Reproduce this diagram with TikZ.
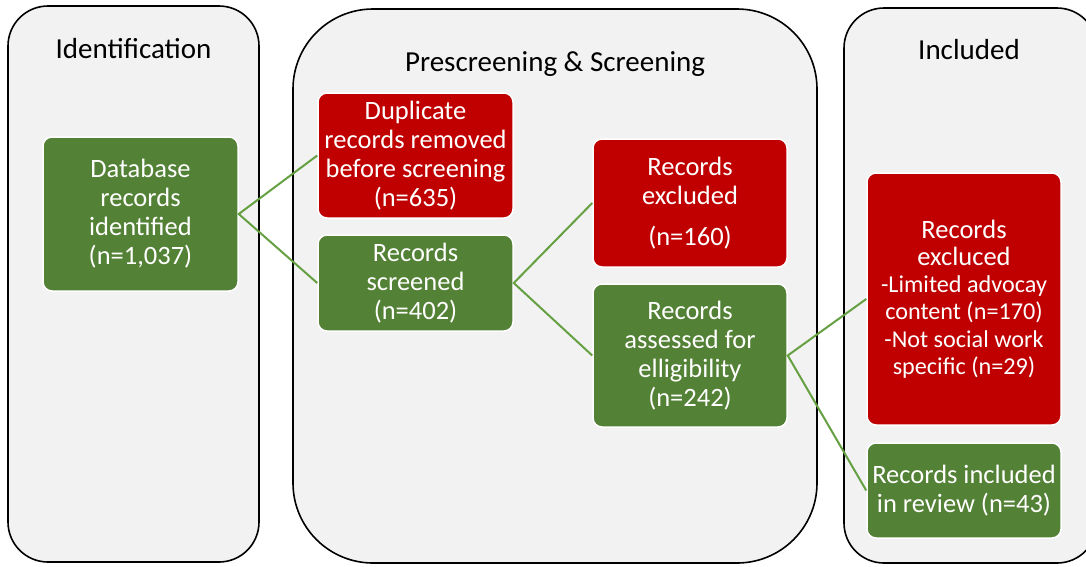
\documentclass[tikz,border=0pt]{standalone}
\usepackage{fontspec}
\setmainfont{Carlito}
\definecolor{boxgreen}{HTML}{538135}
\definecolor{boxred}{HTML}{C00000}
\definecolor{panelgray}{HTML}{F2F2F2}
\definecolor{linkgreen}{HTML}{65A042}
\begin{document}
\begin{tikzpicture}[x=1pt,y=-1pt,
  panel/.style={draw=black,line width=1.6pt,fill=panelgray},
  paneltitle/.style={font=\fontsize{29}{34}\selectfont,text=black,inner sep=0pt},
  stagebox/.style={draw=white,line width=1.5pt,rounded corners=9pt,
    text=white,align=center,inner sep=0pt,
    font=\fontsize{26.5}{29}\selectfont},
  keep/.style={stagebox,fill=boxgreen},
  drop/.style={stagebox,fill=boxred},
  link/.style={draw=linkgreen,line width=2pt}]
\useasboundingbox (0,0) rectangle (1086,566);
\clip (0,0) rectangle (1086,566);
\fill[white] (0,0) rectangle (1086,566);

% stage panels
\draw[panel,rounded corners=40pt] (8,6) rectangle (259,562);
\draw[panel,rounded corners=80pt] (293,9) rectangle (817,563);
\draw[panel,rounded corners=40pt] (844,8) rectangle (1097,563);

\node[paneltitle] (tid) at (133.5,49) {Identification};
\node[paneltitle] (tps) at (555,64) {Prescreening \& Screening};
\node[paneltitle] (tin) at (969,50) {Included};

% record boxes
\node[keep,minimum width=195pt,minimum height=154pt] (db) at (140.5,214)
  {Database\\records\\identified\\(n=1,037)};
\node[drop,minimum width=195pt,minimum height=125pt] (dup) at (415.5,155.5)
  {Duplicate\\records removed\\before screening\\(n=635)};
\node[keep,minimum width=195pt,minimum height=96pt] (scr) at (415.5,283)
  {Records\\screened\\(n=402)};
\node[drop,minimum width=194pt,minimum height=128pt] (exa) at (690,203)
  {Records\\excluded\\[12pt](n=160)};
\node[keep,minimum width=194pt,minimum height=143pt] (ass) at (690,355.5)
  {Records\\assessed for\\elligibility\\(n=242)};
\node[drop,minimum width=194pt,minimum height=252pt,
  font=\fontsize{24.2}{27.2}\selectfont] (exb) at (964,299)
  {\fontsize{26.5}{28}\selectfont Records\\\fontsize{26.5}{28}\selectfont excluced\\-Limited advocay\\content (n=170)\\-Not social work\\specific (n=29)};
\node[keep,minimum width=194pt,minimum height=95pt] (inc) at (964,490.5)
  {Records included\\in review (n=43)};

% connectors
\draw[link] (dup.west) -- (db.east) -- (scr.west);
\draw[link] (exa.west) -- (scr.east) -- (ass.west);
\draw[link] (exb.west) -- (ass.east) -- (inc.west);
\end{tikzpicture}
\end{document}
